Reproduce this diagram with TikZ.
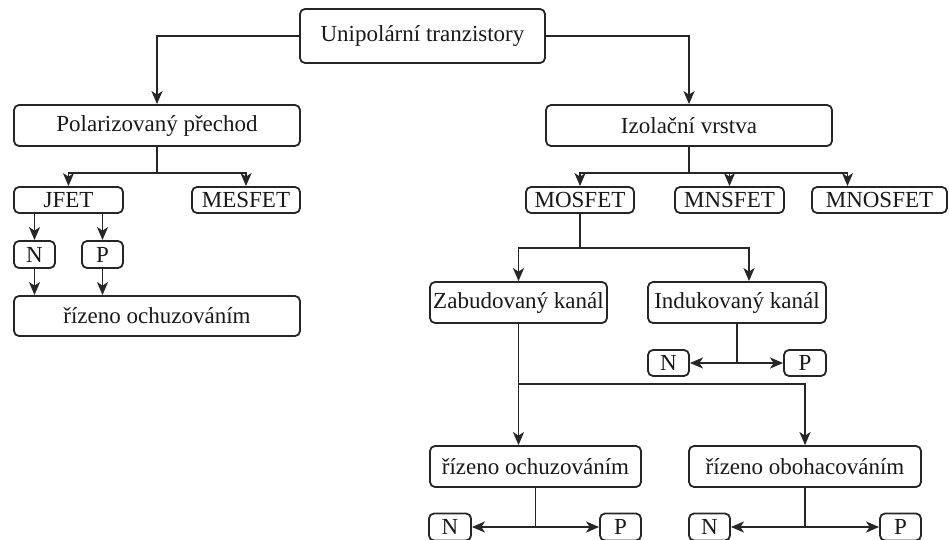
\documentclass[tikz,border=0pt]{standalone}
\usepackage{fontspec}
\setmainfont{Liberation Serif}
\usetikzlibrary{arrows.meta,calc}
\begin{document}
\begin{tikzpicture}[x=1pt,y=-1pt,
  box/.style={draw=black!85, rounded corners=5pt, line width=1.8pt, inner sep=0pt,
    font=\fontsize{23}{27}\selectfont, text=black!90, fill=white},
  con/.style={line width=1.9pt, draw=black!85},
  arr/.style={con, -{Stealth[length=13pt,width=11pt,inset=3.5pt]}},
]
\useasboundingbox (0,0) rectangle (950,540);
\clip (0,0) rectangle (950,540);
\fill[white] (0,0) rectangle (950,540);

% nodes
\node[box, minimum width=245pt, minimum height=54pt] (top) at (422.5,36) {Unipolární tranzistory};
\node[box, minimum width=286pt, minimum height=41pt] (pol) at (157,125.5) {Polarizovaný přechod};
\node[box, minimum width=286pt, minimum height=41pt] (izo) at (689,125.5) {Izolační vrstva};
\node[box, minimum width=109pt, minimum height=26pt] (jfet) at (68.5,200) {JFET};
\node[box, minimum width=108pt, minimum height=26pt] (mesfet) at (246,200) {MESFET};
\node[box, minimum width=41pt, minimum height=27pt] (n1) at (34.5,254.5) {N};
\node[box, minimum width=41pt, minimum height=27pt] (p1) at (102.5,254.5) {P};
\node[box, minimum width=286pt, minimum height=40pt] (roch1) at (157,316) {řízeno ochuzováním};
\node[box, minimum width=108pt, minimum height=26pt] (mosfet) at (580,200) {MOSFET};
\node[box, minimum width=109pt, minimum height=26pt] (mnsfet) at (729.5,200) {MNSFET};
\node[box, minimum width=135pt, minimum height=26pt] (mnosfet) at (879.5,200) {MNOSFET};
\node[box, minimum width=177pt, minimum height=41pt] (zab) at (518.5,302.5) {Zabudovaný kanál};
\node[box, minimum width=178pt, minimum height=41pt] (ind) at (737,302.5) {Indukovaný kanál};
\node[box, minimum width=41pt, minimum height=26pt] (n2) at (668.5,363) {N};
\node[box, minimum width=42pt, minimum height=26pt] (p2) at (805,363) {P};
\node[box, minimum width=211pt, minimum height=41pt] (roch2) at (535.5,466.5) {řízeno ochuzováním};
\node[box, minimum width=232pt, minimum height=41pt] (roboh) at (805,466.5) {řízeno obohacováním};
\node[box, minimum width=42pt, minimum height=27pt] (n3) at (450,527) {N};
\node[box, minimum width=41pt, minimum height=27pt] (p3) at (620.5,527) {P};
\node[box, minimum width=41pt, minimum height=27pt] (n4) at (709.5,527) {N};
\node[box, minimum width=41pt, minimum height=27pt] (p4) at (900.5,527) {P};

% junction coordinates
\coordinate (jp) at (157,173);
\coordinate (ji) at (689,173);
\coordinate (jm) at (580,248);
\coordinate (jz) at (518.5,384);

% connectors
\draw[arr] (top.west) -| (pol.north);
\draw[arr] (top.east) -| (izo.north);

\draw[con] (pol.south) -- (jp);
\draw[arr] (jp) -| (jfet.north);
\draw[arr] (jp) -| (mesfet.north);
\draw[arr] (n1.north |- jfet.south) -- (n1.north);
\draw[arr] (p1.north |- jfet.south) -- (p1.north);
\draw[arr] (n1.south) -- (n1.south |- roch1.north);
\draw[arr] (p1.south) -- (p1.south |- roch1.north);

\draw[con] (izo.south) -- (ji);
\draw[arr] (ji) -| (mosfet.north);
\draw[arr] (ji) -| (mnsfet.north);
\draw[arr] (ji) -| ([xshift=-32pt]mnosfet.north);

\draw[con] (mosfet.south) -- (jm);
\draw[arr] (jm) -| (zab.north);
\draw[arr] (jm) -| ([xshift=12pt]ind.north);

\draw[con] (ind.south) -- (ind.south |- n2.east) coordinate (ji2);
\draw[arr] (ji2) -- (n2.east);
\draw[arr] (ji2) -- (p2.west);

\draw[arr] (zab.south) -- (zab.south |- roch2.north);
\draw[arr] (jz) -| (roboh.north);

\draw[con] (roch2.south) -- (roch2.south |- n3.east) coordinate (jr2);
\draw[arr] (jr2) -- (n3.east);
\draw[arr] (jr2) -- (p3.west);

\draw[con] (roboh.south) -- (roboh.south |- n4.east) coordinate (jr3);
\draw[arr] (jr3) -- (n4.east);
\draw[arr] (jr3) -- (p4.west);
\end{tikzpicture}
\end{document}
